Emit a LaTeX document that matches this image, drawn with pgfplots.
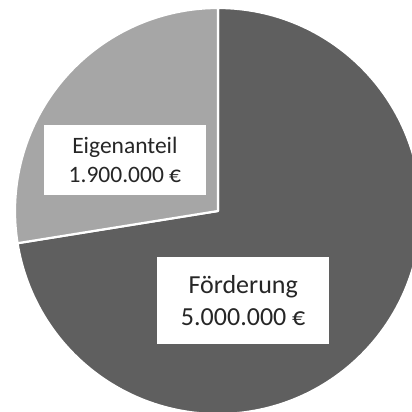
\documentclass[border=0pt]{standalone}
\usepackage{pgfplots}
\usepackage{pgfplotstable}
\pgfplotsset{compat=1.18}
\usepackage{fontspec}
\setmainfont{Carlito}
\definecolor{darkslice}{HTML}{5F5F5F}
\definecolor{lightslice}{HTML}{A6A6A6}
\definecolor{labeltext}{HTML}{262626}
% values in million euro
\pgfplotstableread{
name millions
Foerderung 5.0
Eigenanteil 1.9
}\piedata
\pgfplotstablegetelem{0}{millions}\of\piedata \let\valA\pgfplotsretval
\pgfplotstablegetelem{1}{millions}\of\piedata \let\valB\pgfplotsretval
\pgfmathsetmacro{\angA}{90-360*\valA/(\valA+\valB)}
\pgfmathsetmacro{\angB}{\angA-360*\valB/(\valA+\valB)}
\begin{document}
\begin{tikzpicture}
\begin{axis}[
  scale only axis, width=412bp, height=412bp,
  xmin=-218, xmax=194, ymin=-201, ymax=211,
  hide axis, clip=true,
]
\addplot[draw=none] coordinates {(0,0)};
\fill[darkslice, draw=white, line width=2.2bp, line join=round]
  (axis cs:0,0) -- +(90:203bp) arc[start angle=90, end angle=\angA, radius=203bp] -- cycle;
\fill[lightslice, draw=white, line width=2.2bp, line join=round]
  (axis cs:0,0) -- +(\angA:203bp) arc[start angle=\angA, end angle=\angB, radius=203bp] -- cycle;
\node[fill=white, text=labeltext, inner sep=0pt, minimum width=162bp, minimum height=70bp,
  align=center, font=\fontsize{23.5bp}{29.3bp}\selectfont]
  at (axis cs:-93.1,51) {Eigenanteil\\1.900.000 €};
\node[fill=white, text=labeltext, inner sep=0pt, minimum width=172bp, minimum height=87bp,
  align=center, font=\fontsize{26bp}{32.3bp}\selectfont]
  at (axis cs:25.2,-89.8) {Förderung\\5.000.000 €};
\end{axis}
\pgfresetboundingbox
\useasboundingbox (current axis.south west) rectangle (current axis.north east);
\end{tikzpicture}
\end{document}
